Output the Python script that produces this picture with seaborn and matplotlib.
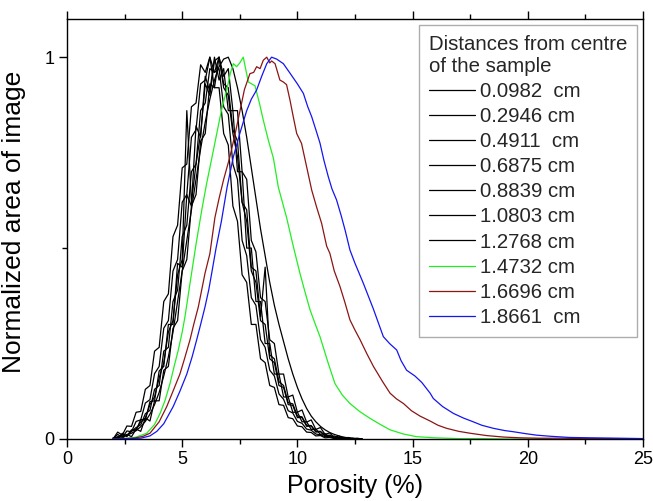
import numpy as np
import pandas as pd
import matplotlib
matplotlib.use("Agg")
import matplotlib.pyplot as plt
import seaborn as sns
from matplotlib.ticker import MultipleLocator

# porosity bins shared by the seven inner (black) profiles
black_x = [2.0, 2.2, 2.4, 2.6, 2.8, 3.0, 3.2, 3.4, 3.6, 3.8,
           4.0, 4.2, 4.4, 4.6, 4.8, 5.0, 5.2, 5.4, 5.6, 5.8,
           6.0, 6.2, 6.4, 6.6, 6.8, 7.0, 7.2, 7.4, 7.6, 7.8,
           8.0, 8.2, 8.4, 8.6, 8.8, 9.0, 9.2, 9.4, 9.6, 9.8,
           10.0, 10.2, 10.4, 10.6, 10.8, 11.0, 11.2, 11.4, 11.6, 11.8,
           12.0, 12.2, 12.4, 12.6, 12.8]

d0982 = [0.0, 0.003, 0.006, 0.01, 0.015, 0.022, 0.032, 0.046, 0.065, 0.09,
         0.122, 0.165, 0.215, 0.28, 0.36, 0.44, 0.52, 0.6, 0.68, 0.76,
         0.83, 0.89, 0.94, 0.975, 0.995, 1.0, 0.97, 0.92, 0.86, 0.79,
         0.71, 0.63, 0.55, 0.48, 0.41, 0.35, 0.3, 0.255, 0.21, 0.17,
         0.135, 0.105, 0.08, 0.06, 0.045, 0.033, 0.024, 0.017, 0.012, 0.008,
         0.005, 0.003, 0.002, 0.001, 0.0]
d2946 = [0.0, 0.012, 0.004, 0.021, 0.019, 0.046, 0.05, 0.094, 0.103, 0.171,
         0.19, 0.29, 0.31, 0.44, 0.47, 0.62, 0.64, 0.79, 0.81, 0.93,
         0.94, 1.0, 0.96, 0.97, 0.87, 0.85, 0.72, 0.68, 0.52, 0.48,
         0.37, 0.35, 0.26, 0.24, 0.18, 0.165, 0.118, 0.104, 0.074, 0.068,
         0.046, 0.041, 0.026, 0.023, 0.013, 0.011, 0.006, 0.006, 0.002, 0.003,
         0.0, 0.002, 0.0, 0.001, 0.0]
d4911 = [0.003, 0.0, 0.015, 0.006, 0.024, 0.022, 0.051, 0.049, 0.098, 0.1,
         0.178, 0.19, 0.3, 0.3, 0.46, 0.45, 0.64, 0.61, 0.82, 0.79,
         0.95, 0.91, 1.0, 0.94, 0.97, 0.86, 0.86, 0.7, 0.7, 0.5,
         0.5, 0.36, 0.36, 0.25, 0.25, 0.17, 0.17, 0.11, 0.11, 0.07,
         0.07, 0.045, 0.045, 0.025, 0.026, 0.012, 0.014, 0.004, 0.008, 0.001,
         0.004, 0.0, 0.002, 0.0, 0.0]
d6875 = [0.0, 0.006, 0.01, 0.009, 0.022, 0.025, 0.045, 0.055, 0.09, 0.11,
         0.16, 0.2, 0.28, 0.31, 0.43, 0.47, 0.86, 0.62, 0.72, 0.8,
         0.93, 0.9, 0.99, 1.0, 0.92, 0.9, 0.8, 0.74, 0.62, 0.57,
         0.44, 0.41, 0.31, 0.3, 0.21, 0.2, 0.14, 0.135, 0.09, 0.088,
         0.056, 0.056, 0.033, 0.034, 0.018, 0.019, 0.008, 0.009, 0.003, 0.004,
         0.001, 0.002, 0.0, 0.0, 0.0]
d8839 = [0.0, 0.002, 0.001, 0.012, 0.006, 0.026, 0.02, 0.055, 0.047, 0.1,
         0.1, 0.18, 0.19, 0.29, 0.31, 0.44, 0.47, 0.61, 0.64, 0.78,
         0.8, 0.93, 0.92, 1.0, 0.95, 0.97, 0.86, 0.86, 0.7, 0.68,
         0.52, 0.49, 0.37, 0.36, 0.26, 0.25, 0.17, 0.17, 0.11, 0.115,
         0.07, 0.076, 0.044, 0.05, 0.025, 0.03, 0.012, 0.016, 0.004, 0.008,
         0.001, 0.004, 0.0, 0.002, 0.0]
d10803 = [0.002, 0.004, 0.011, 0.01, 0.02, 0.03, 0.037, 0.066, 0.075, 0.13,
          0.14, 0.23, 0.24, 0.36, 0.39, 0.53, 0.56, 0.7, 0.72, 0.86,
          0.88, 0.97, 0.96, 1.0, 0.93, 0.92, 0.81, 0.78, 0.62, 0.6,
          0.45, 0.44, 0.32, 0.45, 0.22, 0.21, 0.15, 0.14, 0.095, 0.092,
          0.06, 0.058, 0.036, 0.035, 0.02, 0.02, 0.009, 0.01, 0.004, 0.004,
          0.001, 0.002, 0.001, 0.0, 0.0]
d12768 = [0.0, 0.018, 0.01, 0.034, 0.033, 0.07, 0.072, 0.13, 0.14, 0.23,
          0.24, 0.36, 0.38, 0.53, 0.56, 0.71, 0.72, 0.87, 0.88, 0.98,
          0.96, 1.0, 0.92, 0.92, 0.8, 0.77, 0.61, 0.57, 0.43, 0.41,
          0.3, 0.3, 0.21, 0.2, 0.14, 0.135, 0.09, 0.088, 0.056, 0.053,
          0.034, 0.032, 0.018, 0.017, 0.008, 0.009, 0.003, 0.004, 0.001, 0.002,
          0.0, 0.001, 0.0, 0.0, 0.0]

green_x = [2.0, 2.7, 3.0, 3.46, 3.8, 4.04, 4.25, 4.47, 4.65, 4.83,
           5.0, 5.12, 5.34, 5.6, 5.85, 6.06, 6.3, 6.5, 6.7, 6.93,
           7.1, 7.22, 7.36, 7.5, 7.65, 7.87, 8.16, 8.35, 8.52, 8.75,
           8.96, 9.17, 9.35, 9.53, 9.82, 10.11, 10.33, 10.55, 10.78, 10.98,
           11.15, 11.34, 11.63, 11.95, 12.28, 12.7, 13.15, 13.6, 14.02, 14.6,
           15.17, 16.0, 17.0, 18.0, 19.0, 20.0, 21.0]
green_y = [0.0, 0.002, 0.005, 0.015, 0.038, 0.067, 0.1, 0.145, 0.19, 0.233,
           0.28, 0.32, 0.408, 0.51, 0.6, 0.669, 0.74, 0.8, 0.86, 0.914,
           0.96, 0.983, 0.975, 0.985, 1.0, 0.935, 0.925, 0.88, 0.835, 0.78,
           0.735, 0.66, 0.62, 0.58, 0.505, 0.434, 0.385, 0.338, 0.3, 0.268,
           0.235, 0.198, 0.145, 0.115, 0.093, 0.072, 0.054, 0.038, 0.024, 0.013,
           0.006, 0.003, 0.001, 0.001, 0.0, 0.0, 0.0]

brown_x = [2.0, 2.9, 3.3, 3.6, 4.0, 4.33, 4.6, 4.9, 5.1, 5.34,
           5.5, 5.7, 5.99, 6.2, 6.42, 6.6, 6.8, 7.07, 7.3, 7.51,
           7.7, 7.94, 8.1, 8.23, 8.38, 8.52, 8.67, 8.8, 8.88, 9.03,
           9.24, 9.39, 9.53, 9.68, 9.82, 9.97, 10.18, 10.4, 10.62, 10.83,
           11.05, 11.27, 11.41, 11.6, 11.85, 12.05, 12.28, 12.5, 12.72, 13.0,
           13.3, 13.7, 14.02, 14.3, 14.6, 14.95, 15.32, 15.76, 16.1, 16.47,
           17.0, 17.5, 18.2, 18.95, 19.7, 20.5, 21.5, 22.5, 23.5, 25.0]
brown_y = [0.0, 0.002, 0.007, 0.015, 0.045, 0.085, 0.125, 0.17, 0.21, 0.26,
           0.3, 0.346, 0.434, 0.485, 0.58, 0.63, 0.68, 0.739, 0.8, 0.86,
           0.915, 0.957, 0.96, 0.975, 0.97, 0.992, 1.0, 0.985, 0.99, 0.983,
           0.94, 0.935, 0.928, 0.887, 0.844, 0.8, 0.774, 0.713, 0.652, 0.608,
           0.565, 0.505, 0.486, 0.44, 0.399, 0.36, 0.312, 0.285, 0.26, 0.225,
           0.19, 0.15, 0.12, 0.105, 0.093, 0.074, 0.06, 0.047, 0.036, 0.028,
           0.02, 0.015, 0.009, 0.005, 0.003, 0.002, 0.002, 0.001, 0.001, 0.0]

blue_x = [2.0, 3.2, 3.6, 3.9, 4.2, 4.61, 4.9, 5.2, 5.43, 5.63,
          5.8, 5.99, 6.15, 6.28, 6.47, 6.7, 6.95, 7.22, 7.5, 7.8,
          8.0, 8.23, 8.45, 8.67, 8.88, 9.1, 9.39, 9.68, 10.0, 10.26,
          10.45, 10.62, 10.8, 10.98, 11.15, 11.34, 11.5, 11.7, 11.9, 12.07,
          12.28, 12.5, 12.86, 13.3, 13.73, 14.0, 14.31, 14.5, 14.74, 15.1,
          15.4, 15.76, 15.9, 16.3, 16.77, 17.2, 17.63, 18.0, 18.5, 19.0,
          19.37, 19.9, 20.38, 21.0, 21.8, 22.8, 24.0, 25.0]
blue_y = [0.0, 0.002, 0.008, 0.02, 0.04, 0.085, 0.125, 0.17, 0.215, 0.26,
          0.3, 0.346, 0.39, 0.434, 0.5, 0.57, 0.66, 0.739, 0.8, 0.86,
          0.89, 0.914, 0.95, 0.983, 1.0, 0.995, 0.983, 0.958, 0.93, 0.905,
          0.87, 0.844, 0.81, 0.775, 0.73, 0.687, 0.655, 0.626, 0.585, 0.547,
          0.495, 0.46, 0.408, 0.34, 0.268, 0.25, 0.233, 0.205, 0.18, 0.165,
          0.148, 0.12, 0.106, 0.085, 0.067, 0.055, 0.045, 0.036, 0.028, 0.022,
          0.019, 0.014, 0.01, 0.007, 0.004, 0.003, 0.002, 0.001]

labels = ['0.0982  cm', '0.2946 cm', '0.4911  cm', '0.6875 cm', '0.8839 cm',
          '1.0803 cm', '1.2768 cm', '1.4732 cm', '1.6696 cm', '1.8661  cm']
colors = ['black'] * 7 + ['#22EE22', '#8B1515', '#1515F0']

series = [(black_x, d0982), (black_x, d2946), (black_x, d4911), (black_x, d6875),
          (black_x, d8839), (black_x, d10803), (black_x, d12768),
          (green_x, green_y), (brown_x, brown_y), (blue_x, blue_y)]

frames = []
for lab, (xs, ys) in zip(labels, series):
    frames.append(pd.DataFrame({'Porosity': xs, 'Area': ys, 'Distance': lab}))
df = pd.concat(frames, ignore_index=True)

sns.set_style("ticks")
plt.rcParams['font.family'] = ['Liberation Sans', 'DejaVu Sans']

fig = plt.figure(figsize=(6.53, 5.01), dpi=100)
ax = fig.add_axes([0.1026, 0.1238, 0.8821, 0.8383])

sns.lineplot(data=df, x='Porosity', y='Area', hue='Distance', hue_order=labels,
             palette=dict(zip(labels, colors)), estimator=None, sort=False,
             linewidth=0.9, ax=ax)

ax.set_xlim(0, 25)
ax.set_ylim(0, 1.1)
ax.xaxis.set_major_locator(MultipleLocator(5))
ax.xaxis.set_minor_locator(MultipleLocator(2.5))
ax.set_yticks([0, 1])
ax.set_yticklabels(['0', '1'])
ax.yaxis.set_minor_locator(MultipleLocator(0.5))
ax.tick_params(which='both', direction='out', top=True, right=False,
               width=1, color='black', labelsize=13, labelcolor='black')
ax.tick_params(which='major', length=6, pad=3)
ax.tick_params(which='minor', length=3.5)
for sp in ax.spines.values():
    sp.set_visible(True)
    sp.set_color('black')
    sp.set_linewidth(1.0)

ax.set_xlabel('Porosity (%)', fontsize=18, labelpad=4, color='black')
ax.set_ylabel('Normalized area of image', fontsize=19, color='black')
ax.yaxis.set_label_coords(-0.072, 0.518)

handles, labs = ax.get_legend_handles_labels()
leg = ax.legend(handles, labs, title='Distances from centre\nof the sample',
                loc='upper right', fontsize=14.7, title_fontsize=14.7,
                frameon=True, fancybox=False, edgecolor='#999999',
                handlelength=2.25, handletextpad=0.25, labelspacing=0.3,
                borderpad=0.5, borderaxespad=0.27, alignment='left')
leg.get_frame().set_linewidth(1.0)

fig.savefig('out.png', dpi=100)
